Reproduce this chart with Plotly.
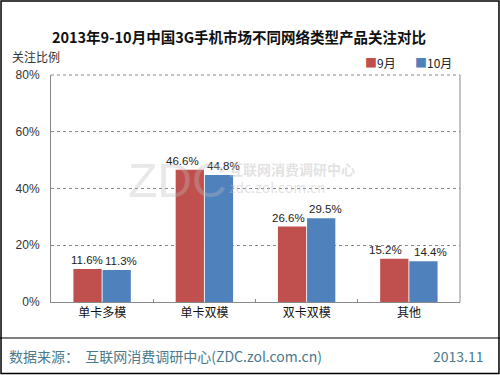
import plotly.graph_objects as go

categories = ["单卡多模", "单卡双模", "双卡双模", "其他"]
sep_values = [11.6, 46.6, 26.6, 15.2]
oct_values = [11.3, 44.8, 29.5, 14.4]
series_names = ["9月", "10月"]
series_colors = ["#C0504D", "#4F81BD"]
tick_vals = [0, 20, 40, 60, 80]
tick_text = ["0%", "20%", "40%", "60%", "80%"]

# label offsets (px) relative to each bar centre, like Excel's overlap avoidance
label_shift = {0: [-1, -7, -4, -9], 1: [4, 5, 4, 7]}

FONT = "Noto Sans CJK SC"
NUMFONT = "Liberation Sans"
fig = go.Figure()
series = [sep_values, oct_values]
for i, (name, vals) in enumerate(zip(series_names, series)):
    fig.add_trace(go.Bar(
        x=categories, y=vals, name=name,
        marker=dict(color=series_colors[i], line=dict(width=0)),
        showlegend=False, hoverinfo="skip",
    ))

annotations = []
half = 14.5
for i, vals in enumerate(series):
    base = -half if i == 0 else half
    for j, (c, v) in enumerate(zip(categories, vals)):
        annotations.append(dict(
            x=c, y=v, xref="x", yref="y", text=f"{v:.1f}%", showarrow=False,
            xanchor="center", yanchor="bottom", xshift=base + label_shift[i][j], yshift=1,
            font=dict(size=11.5, family=NUMFONT, color="#222222")))

fig.update_layout(
    width=500, height=375,
    margin=dict(l=51, r=40, t=75, b=73),
    paper_bgcolor="white", plot_bgcolor="white",
    barmode="group", bargap=0.43, bargroupgap=0.03,
    font=dict(family=FONT, size=12, color="#222222"),
    title=dict(text="<b>2013年9-10月中国3G手机市场不同网络类型产品关注对比</b>",
               x=0.478, xanchor="center", y=0.898, yanchor="middle",
               font=dict(size=14.5, family=FONT, color="#111111")),
    xaxis=dict(showline=True, linecolor="#888888", linewidth=1, mirror=False,
               ticks="inside", tickson="boundaries", ticklen=3, tickcolor="#888888",
               tickfont=dict(size=12, family=FONT, color="#111111"),
               fixedrange=True),
    yaxis=dict(range=[0, 80], tickvals=tick_vals, ticktext=tick_text,
               showgrid=True, gridcolor="#888888", griddash="dot", gridwidth=1,
               showline=True, linecolor="#888888", linewidth=1, mirror=False,
               zeroline=False, ticks="", ticklabelstandoff=8, fixedrange=True,
               tickfont=dict(size=12, family=NUMFONT, color="#333333")),
    shapes=[
        dict(type="line", xref="paper", yref="paper", x0=1, x1=1, y0=0, y1=1,
             line=dict(color="#888888", width=1)),
        dict(type="line", xref="paper", yref="paper", x0=0, x1=1, y0=1, y1=1,
             line=dict(color="#888888", width=1, dash="dot")),
        dict(type="line", xref="paper", yref="paper", x0=-0.125, x1=1.098,
             y0=-0.1586, y1=-0.1586, line=dict(color="#000000", width=1.2)),
        dict(type="rect", xref="paper", yref="paper", x0=-0.1222, x1=1.0953,
             y0=-0.3150, y1=1.3260, line=dict(color="#000000", width=1.5)),
    ],
    annotations=annotations + [
        dict(text="关注比例", xref="paper", yref="paper", x=-0.1, y=1.083,
             xanchor="left", yanchor="middle", showarrow=False,
             font=dict(size=12, family=FONT, color="#333333")),
        dict(text=f"<span style='color:{series_colors[0]}'>■</span>{series_names[0]}",
             xref="paper", yref="paper", x=0.763, y=1.055, xanchor="left", yanchor="middle",
             showarrow=False, font=dict(size=12, family=FONT, color="#222222")),
        dict(text=f"<span style='color:{series_colors[1]}'>■</span>{series_names[1]}",
             xref="paper", yref="paper", x=0.885, y=1.055, xanchor="left", yanchor="middle",
             showarrow=False, font=dict(size=12, family=FONT, color="#222222")),
        dict(text="数据来源：  互联网消费调研中心(ZDC.zol.com.cn)", xref="paper", yref="paper",
             x=-0.108, y=-0.236, xanchor="left", yanchor="middle", showarrow=False,
             font=dict(size=14, family=FONT, color="#4A7A8C")),
        dict(text="2013.11", xref="paper", yref="paper", x=1.063, y=-0.236,
             xanchor="right", yanchor="middle", showarrow=False,
             font=dict(size=14, family=FONT, color="#4A7A8C")),
        dict(text="ZDC", xref="paper", yref="paper", x=0.31, y=0.535,
             xanchor="center", yanchor="middle", showarrow=False,
             font=dict(size=48, family="Liberation Sans", color="rgba(190,190,190,0.35)")),
        dict(text="<b>互联网消费调研中心</b><br>zdc.zol.com.cn", xref="paper", yref="paper",
             x=0.43, y=0.545, xanchor="left", yanchor="middle", showarrow=False,
             align="left",
             font=dict(size=14, family=FONT, color="rgba(190,190,190,0.45)")),
    ],
)

fig.write_html("out.html", config={"displayModeBar": False, "staticPlot": True},
               post_script="document.body.style.margin='0px';")
